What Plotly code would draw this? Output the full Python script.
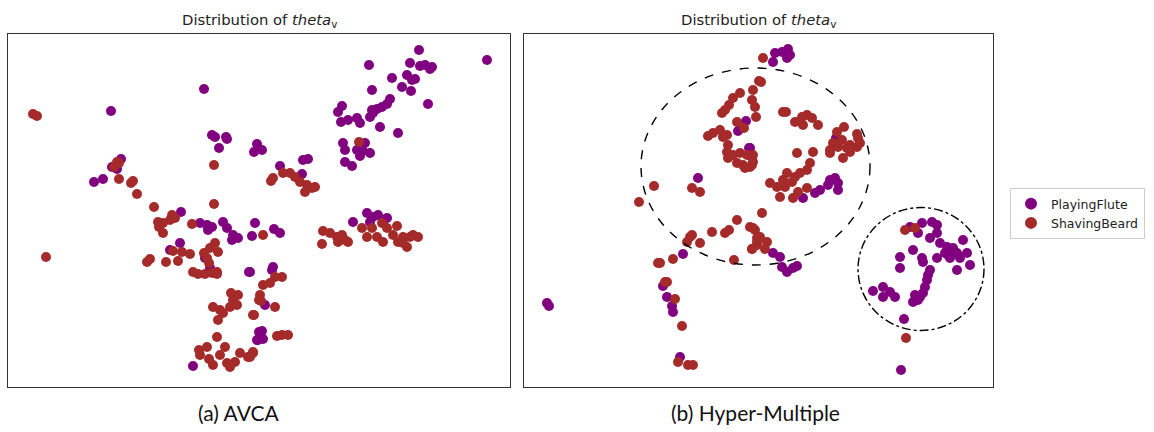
import plotly.graph_objects as go

# ---- data (pixel-space embedding coordinates) ----
avca_flute_x = [111, 204, 212, 215, 227, 226, 219, 257, 254, 262, 121, 112, 117, 94, 103, 181,
                419, 487, 369, 410, 420, 425, 432, 430, 392, 407, 412, 415, 402, 411, 372, 428,
                390, 387, 382, 377, 372, 370, 373, 342, 338, 341, 348, 357, 360, 380, 398,
                343, 345, 365, 357, 370, 360, 363, 345, 352, 303, 308, 280, 302,
                200, 207, 208, 212, 223, 227, 233, 238, 232, 252, 255, 180, 170, 205, 210, 249,
                259, 257, 193, 274, 280, 353, 367, 373, 378, 387, 370, 273, 272, 265, 262, 258, 263, 250]
avca_flute_y = [111, 89, 135, 137, 139, 137, 148, 144, 152, 150, 159, 167, 169, 182, 179, 212,
                50, 60, 65, 63, 66, 65, 67, 69, 78, 75, 80, 79, 87, 91, 90, 104,
                99, 104, 107, 109, 110, 117, 113, 106, 112, 122, 120, 118, 123, 127, 133,
                143, 150, 143, 150, 153, 156, 151, 162, 166, 160, 159, 166, 174,
                223, 225, 230, 227, 222, 228, 235, 238, 240, 236, 223, 243, 250, 258, 268, 272,
                332, 340, 366, 229, 233, 222, 213, 217, 215, 218, 222, 267, 270, 305, 331, 340, 339, 272]

avca_beard_x = [33, 37, 117, 114, 119, 119, 131, 133, 137, 214, 154, 214, 359,
                273, 271, 283, 290, 295, 307, 305, 315, 312, 300,
                158, 163, 170, 175, 172, 159, 163, 192, 173, 182, 190, 147, 150, 166, 178,
                204, 210, 215, 218, 207, 209, 193, 198, 205, 212, 217, 217, 46,
                231, 238, 233, 237, 230, 213, 220, 223, 218, 254, 259,
                217, 225, 199, 207, 200, 209, 213, 220, 227, 230, 240, 235, 248, 253,
                263, 323, 330, 322, 337, 342, 345, 348, 338,
                362, 372, 382, 387, 397, 367, 377, 383, 393, 398, 403, 407, 410, 418, 413, 403,
                275, 282, 270, 263, 260, 261, 275, 253, 277, 282, 288, 253, 250]
avca_beard_y = [114, 116, 162, 167, 163, 179, 183, 181, 194, 165, 207, 204, 142,
                178, 181, 173, 173, 177, 185, 192, 187, 188, 182,
                222, 223, 220, 218, 215, 227, 233, 224, 251, 252, 254, 262, 259, 262, 261,
                253, 248, 243, 252, 258, 263, 272, 274, 274, 273, 272, 274, 257,
                293, 295, 300, 305, 307, 307, 310, 313, 320, 315, 300,
                337, 347, 350, 347, 355, 359, 365, 355, 363, 367, 353, 362, 357, 352,
                235, 231, 233, 244, 237, 235, 240, 242, 242,
                228, 228, 223, 228, 226, 237, 237, 242, 235, 242, 237, 247, 237, 237, 235, 243,
                277, 277, 283, 285, 295, 301, 307, 315, 336, 335, 335, 353, 357]

hm_flute_x = [746, 738, 749, 750, 698, 775, 782, 788, 790, 787, 773, 836,
              830, 835, 838, 828, 838, 815, 820, 803, 683, 663, 667, 672, 673, 547, 549, 680,
              773, 780, 782, 787, 793, 797,
              910, 922, 932, 937, 918, 930, 937, 940, 947, 953, 945, 950, 957, 967, 963, 970, 957, 948, 960,
              913, 922, 923, 937, 900, 900, 930, 928, 927, 925, 923, 920, 915, 913, 918,
              873, 883, 883, 890, 895, 904, 901]
hm_flute_y = [121, 131, 148, 148, 178, 53, 52, 49, 55, 58, 62, 138,
              180, 178, 183, 185, 190, 193, 190, 198, 254, 286, 297, 306, 312, 303, 306, 357,
              253, 257, 267, 272, 268, 266,
              227, 223, 222, 225, 233, 238, 233, 243, 247, 248, 253, 258, 253, 253, 240, 265, 270, 255, 258,
              250, 258, 262, 258, 257, 268, 270, 275, 280, 287, 293, 297, 295, 302, 300,
              291, 287, 297, 292, 297, 319, 370]

hm_beard_x = [763, 759, 753, 740, 733, 729, 725, 722, 752, 755, 756, 737, 744,
              708, 713, 720, 727, 728, 723, 727, 733, 740, 747, 752, 728, 737, 743, 750, 745, 753,
              654, 692, 700, 639, 761,
              783, 786, 795, 802, 807, 803, 812, 818,
              837, 844, 857, 858, 833, 830, 842, 838, 847, 850, 857, 860, 843, 850, 830,
              797, 813, 810, 807, 800, 795, 787, 783, 792, 770, 777, 785, 780, 793, 798, 807, 753, 752,
              737, 762, 750, 755, 757, 752, 757, 712, 725, 729, 690, 687, 700, 692, 734,
              673, 658, 660, 665, 667, 675, 682, 678, 688, 693,
              753, 760, 767, 765, 752, 757, 905, 915, 906]
hm_beard_y = [58, 81, 90, 93, 98, 105, 110, 113, 100, 107, 117, 122, 128,
              136, 133, 130, 135, 145, 137, 152, 155, 153, 155, 157, 158, 163, 165, 167, 168, 162,
              186, 188, 192, 202, 82,
              112, 112, 122, 117, 115, 125, 118, 125,
              132, 127, 134, 138, 143, 150, 140, 147, 148, 145, 147, 143, 158, 152, 153,
              153, 152, 163, 170, 173, 177, 173, 180, 182, 183, 187, 187, 197, 198, 192, 188, 155, 165,
              220, 213, 227, 230, 238, 249, 245, 232, 233, 230, 237, 242, 243, 235, 260,
              259, 263, 263, 282, 282, 299, 326, 362, 365, 365,
              228, 237, 242, 249, 249, 242, 230, 228, 338]

series_names = ["PlayingFlute", "ShavingBeard"]
panel_titles = ["Distribution of <i>theta</i><sub>v</sub>", "Distribution of <i>theta</i><sub>v</sub>"]
captions = ["(a) AVCA", "(b) Hyper-Multiple"]

# cluster outlines in panel (b): centre x, centre y, radius x, radius y
ellipse_dash = (755.5, 166.5, 114.5, 98.5)
ellipse_dashdot = (921, 269, 63, 61.5)

PURPLE = "#800080"
BROWN = "#A52A2A"

W, H = 1154, 432
def px(x):
    return x / W
def py(y):
    return 1 - y / H

fig = go.Figure()
mk = dict(size=10, line=dict(width=0))
fig.add_trace(go.Scatter(x=avca_flute_x, y=avca_flute_y, mode="markers", name=series_names[0],
                         marker=dict(color=PURPLE, **mk), xaxis="x", yaxis="y", legendgroup="f"))
fig.add_trace(go.Scatter(x=avca_beard_x, y=avca_beard_y, mode="markers", name=series_names[1],
                         marker=dict(color=BROWN, **mk), xaxis="x", yaxis="y", legendgroup="b"))
fig.add_trace(go.Scatter(x=hm_flute_x, y=hm_flute_y, mode="markers", name=series_names[0],
                         marker=dict(color=PURPLE, **mk), xaxis="x2", yaxis="y2", legendgroup="f",
                         showlegend=False))
fig.add_trace(go.Scatter(x=hm_beard_x, y=hm_beard_y, mode="markers", name=series_names[1],
                         marker=dict(color=BROWN, **mk), xaxis="x2", yaxis="y2", legendgroup="b",
                         showlegend=False))

ax_common = dict(showgrid=False, zeroline=False, showticklabels=False, ticks="",
                 showline=True, mirror=True, linecolor="#333333", linewidth=1.2)
fig.update_layout(
    width=W, height=H,
    margin=dict(l=0, r=0, t=0, b=0),
    paper_bgcolor="white", plot_bgcolor="white",
    xaxis=dict(domain=[px(8), px(510)], range=[8, 510], **ax_common),
    yaxis=dict(domain=[py(387), py(34)], range=[387, 34], **ax_common),
    xaxis2=dict(domain=[px(524), px(993)], range=[524, 993], anchor="y2", **ax_common),
    yaxis2=dict(domain=[py(387), py(34)], range=[387, 34], anchor="x2", **ax_common),
    legend=dict(x=px(1010), y=py(188), xanchor="left", yanchor="top",
                bordercolor="#cccccc", borderwidth=1, bgcolor="white",
                font=dict(family="DejaVu Sans", size=12.5, color="#222"),
                itemsizing="constant", tracegroupgap=0),
    showlegend=True,
)

for (cx, cy, rx, ry), dash in [(ellipse_dash, "dash"), (ellipse_dashdot, "dashdot")]:
    fig.add_shape(type="circle", xref="x2", yref="y2", x0=cx - rx, x1=cx + rx, y0=cy - ry, y1=cy + ry,
                  line=dict(color="black", width=1.4, dash=dash))

for cx, t in [(259, panel_titles[0]), (758.5, panel_titles[1])]:
    fig.add_annotation(x=px(cx), y=py(32), xref="paper", yref="paper", text=t, showarrow=False,
                       xanchor="center", yanchor="bottom",
                       font=dict(family="DejaVu Sans", size=14.8, color="#222"))
for cx, t in [(238, captions[0]), (755, captions[1])]:
    fig.add_annotation(x=px(cx), y=py(412), xref="paper", yref="paper", text=t, showarrow=False,
                       xanchor="center", yanchor="middle",
                       font=dict(family="Lato", size=21, color="#111"))

fig.write_html("out.html", config={"displayModeBar": False},
               post_script="document.body.style.margin='0';")
